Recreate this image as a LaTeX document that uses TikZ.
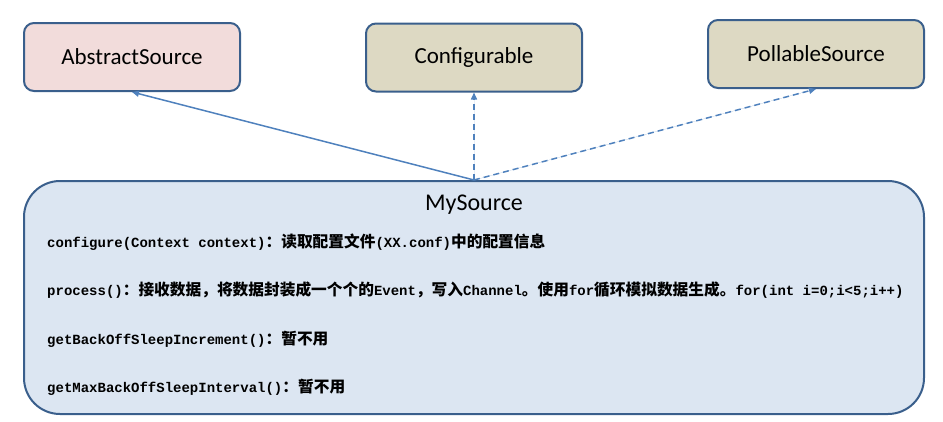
\documentclass[tikz,border=0pt]{standalone}
\usepackage{fontspec}
\setmainfont{Carlito}
\setmonofont{Liberation Mono}
\newfontfamily\cjk{Noto Sans CJK SC}
\usetikzlibrary{arrows.meta,positioning}
\definecolor{boxline}{HTML}{3A5F8C}
\definecolor{arrowblue}{HTML}{4F81BD}
\definecolor{pinkfill}{HTML}{F2DCDB}
\definecolor{tanfill}{HTML}{DDD9C3}
\definecolor{bluefill}{HTML}{DCE6F2}
\newcommand{\zh}[1]{{\cjk\bfseries\fontsize{15.7pt}{16pt}\selectfont #1}}

\begin{document}
\begin{tikzpicture}[
			x=1pt, y=-1pt,
			>={Triangle[length=7pt,width=6pt]},
			iface/.style={rectangle, rounded corners=10pt, draw=boxline, line width=2pt,
				fill=tanfill, minimum width=216pt, minimum height=68pt, font=\fontsize{23pt}{25pt}\selectfont},
			cls/.style={rectangle, rounded corners=36pt, draw=boxline, line width=2pt,
				fill=bluefill, minimum width=900pt, minimum height=233pt},
			method/.style={anchor=west, inner sep=0pt, font=\ttfamily\bfseries\fontsize{14pt}{16pt}\selectfont},
			rel/.style={->, draw=arrowblue, fill=arrowblue, line width=1.5pt}
		]
		\useasboundingbox (0,0) rectangle (943,421);
		% Nodes
		\node[iface, fill=pinkfill] (abs) at (132,57) {AbstractSource};
		\node[iface] (conf) at (474,57.5) {Configurable};
		\node[iface] (poll) at (816,54) {PollableSource};
		\node[cls] (my) at (474,297.5) {};
		\node[font=\fontsize{24pt}{26pt}\selectfont] (mytitle) [below=11pt of my.north] {MySource};

		% Methods
		\node[method] (m1) at (47,242) {configure(Context context)\zh{：读取配置文件}(XX.conf)\zh{中的配置信息}};
		\node[method] (m2) at (47,290) {process()\zh{：接收数据，将数据封装成一个个的}Event\zh{，写入}Channel\zh{。使用}for\zh{循环模拟数据生成。}for(int i=0;i<5;i++)};
		\node[method] (m3) at (47,339) {getBackOffSleepIncrement()\zh{：暂不用}};
		\node[method] (m4) at (47,387) {getMaxBackOffSleepInterval()\zh{：暂不用}};

		% Arrows
		\draw[rel] (my.north) -- (abs.south);
		\draw[rel, dash pattern=on 6pt off 4pt] (my.north) -- (conf.south);
		\draw[rel, dash pattern=on 6pt off 4pt] (my.north) -- (poll.south);
	\end{tikzpicture}
\end{document}
